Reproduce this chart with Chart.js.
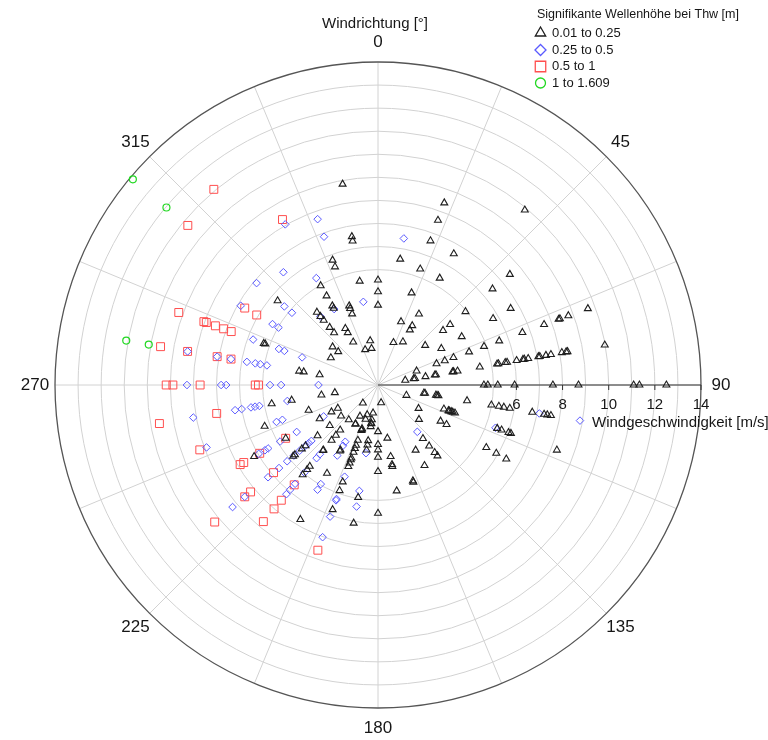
<!DOCTYPE html>
<html>
<head>
<meta charset="utf-8">
<script src="https://cdn.jsdelivr.net/npm/chart.js@4.4.0/dist/chart.umd.min.js"></script>
<style>
  html, body { margin: 0; padding: 0; background: #fff; }
  #wrap { width: 768px; height: 740px; position: relative; }
</style>
</head>
<body>
<div id="wrap"><canvas id="c"></canvas></div>
<script>
// Observations as [wind direction in degrees, wind speed in m/s], grouped by significant wave height class
const legendTitle = 'Signifikante Wellenhöhe bei Thw [m]';
const classLabels = ['0.01 to 0.25', '0.25 to 0.5', '0.5 to 1', '1 to 1.609'];

const waveLow = [
  [0,4.55],[0,4.04],[0,3.46],
  [10,5.54],
  [20,8.4],[20,7.6],[20,6.65],[20,5.35],[20,4.25],[20,2.92],[20,1.96],
  [30,6.57],[30,5.35],[30,3.55],[30,2.97],[30,2.76],[30,2.16],
  [40,9.9],
  [50,7.46],[50,6.48],[50,4.95],[50,4.08],[50,3.68],[50,2.67],
  [60,6.64],[60,5.76],[60,4.19],[60,3.17],
  [70,9.68],[70,8.78],[70,8.39],[70,8.33],[70,7.66],[70,6.66],[70,5.59],[70,4.89],[70,4.2],[70,3.48],[70,3.08],[70,2.7],[70,1.78],
  [80,9.98],[80,8.34],[80,8.28],[80,8.09],[80,7.61],[80,7.39],[80,7.12],[80,7.06],[80,6.61],[80,6.44],[80,6.38],[80,6.1],[80,5.68],[80,5.6],[80,5.3],[80,5.24],[80,4.48],[80,3.5],[80,3.33],[80,3.28],[80,2.55],[80,2.5],[80,2.09],[80,1.63],[80,1.57],[80,1.2],
  [90,12.5],[90,11.33],[90,11.08],[90,8.69],[90,7.58],[90,5.92],[90,5.19],[90,4.76],[90,4.59],
  [100,7.61],[100,7.45],[100,7.31],[100,6.79],[100,5.8],[100,5.54],[100,5.32],[100,4.99],[100,3.92],[100,2.66],[100,2.6],[100,2.55],[100,2.07],[100,2.02],
  [110,8.25],[110,6.13],[110,6.02],[110,5.7],[110,5.5],[110,3.55],[110,3.45],[110,3.38],[110,3.3],[110,3.25],[110,3.04],[110,1.31],
  [120,6.42],[120,5.92],[120,5.42],[120,3.43],[120,3.13],[120,2.03],
  [130,2.32],
  [140,4.01],[140,3.82],[140,3.45],[140,3.03],
  [150,4.03],[150,3.26],
  [160,4.48],[160,4.42],
  [170,4.66],[170,3.58],[170,3.5],[170,3.15],[170,2.34],[170,0.78],
  [180,5.56],[180,3.75],[180,3.13],[180,2.81],[180,2.58],[180,2.02],
  [190,6.08],[190,4.95],[190,2.86],[190,2.64],[190,2.45],[190,1.83],[190,1.7],[190,1.68],[190,1.53],[190,1.23],
  [200,5.75],[200,4.87],[200,4.47],[200,3.76],[200,3.6],[200,3.45],[200,3.37],[200,3.1],[200,2.93],[200,2.78],[200,2.55],[200,2.1],[200,2.06],[200,2.02],[200,1.58],[200,1.37],
  [210,6.73],[210,4.42],[210,3.3],[210,3.25],[210,1.96],[210,1.94],[210,1.56],
  [220,5.08],[220,4.78],[220,4.6],[220,3.71],[220,3.68],[220,3.13],[220,2.84],[220,2.55],[220,1.97],[220,1.02],
  [230,4.8],[230,4.7],[230,4.31],[230,4.1],[230,3.42],[230,2.73],[230,2.09],
  [240,6.2],[240,4.62],[240,2.92],[240,2.33],[240,2.01],
  [250,5.23],[250,3.2],
  [260,4.68],[260,3.8],[260,2.49],[260,1.9],
  [280,3.47],[280,3.27],[280,2.57],
  [290,5.27],[290,5.2],
  [300,2.36],
  [310,5.68],[310,2.57],[310,2.25],
  [320,4.12],[320,3.88],[320,3.66],[320,3.26],[320,2.96],
  [330,4.97],[330,4.46],[330,3.96],[330,3.84],[330,2.83],[330,2.62],[330,2.15],
  [340,5.76],[340,5.45],[340,3.65],[340,3.53],[340,3.28],[340,1.63],
  [350,8.84],[350,6.53],[350,6.34],[350,4.57],[350,1.95],[350,1.61]
];

const waveMid = [
  [10,6.45],
  [100,8.89],[100,7.1],
  [110,5.42],
  [140,2.65],
  [190,5.35],[190,4.66],[190,3.0],
  [200,7.02],[200,6.07],[200,5.32],[200,5.26],[200,4.23],
  [210,5.24],[210,4.96],[210,3.53],[210,3.04],[210,2.84],
  [220,6.18],[220,5.93],[220,5.59],[220,4.96],[220,4.14],[220,3.92],
  [230,8.23],[230,7.54],[230,6.22],[230,5.6],[230,5.14],[230,4.76],[230,4.43],[230,4.08],[230,3.92],[230,3.77],
  [240,5.97],[240,5.66],[240,5.5],[240,4.9],[240,4.07],[240,2.72],
  [250,7.91],[250,4.68],[250,4.41],
  [260,8.13],[260,6.29],[260,6.0],[260,5.59],[260,5.41],[260,5.22],[260,3.99],
  [270,8.28],[270,6.8],[270,6.58],[270,4.68],[270,4.2],[270,2.58],
  [280,8.38],[280,7.08],[280,6.47],[280,5.77],[280,5.4],[280,5.18],[280,4.89],
  [290,5.76],[290,4.57],[290,4.32],[290,3.5],
  [300,6.87],[300,5.28],[300,4.98],
  [310,6.87],[310,5.3],[310,4.87],
  [320,6.38],[320,3.88],
  [330,8.04],[330,5.35],[330,3.8],
  [340,7.65],[340,6.84],
  [350,3.66]
];

const waveHigh = [
  [200,7.62],
  [220,7.73],[220,7.01],[220,6.52],[220,5.65],
  [230,9.24],[230,7.54],[230,7.21],[230,5.91],
  [240,6.9],[240,6.72],[240,5.92],[240,4.62],
  [250,8.22],
  [260,9.62],[260,7.1],
  [270,9.18],[270,8.89],[270,7.71],[270,5.32],[270,5.18],
  [280,9.57],[280,8.38],[280,7.08],[280,6.47],
  [290,9.19],[290,8.03],[290,7.92],[290,7.5],[290,7.12],[290,6.77],
  [300,6.67],[300,6.07],
  [310,10.76],
  [320,11.07],
  [330,8.28]
];

const waveMax = [
  [280,11.08],[280,10.09],
  [310,13.87],[310,11.97]
];

// Polar frame: ring speeds, spoke directions and tick labels
const speedMax = 14;
const ringSpeeds = [5, 6, 7, 8, 9, 10, 11, 12, 13];
const speedTicks = [6, 8, 10, 12, 14];
const spokeDirs = [0, 22.5, 45, 67.5, 90, 112.5, 135, 157.5, 180, 202.5, 225, 247.5, 270, 292.5, 315, 337.5];
const dirTicks = [0, 45, 90, 135, 180, 225, 270, 315];
const dirTitle = 'Windrichtung [°]';
const speedTitle = 'Windgeschwindigkeit [m/s]';

const FONT = '"Liberation Sans", Arial, Helvetica, sans-serif';
const DEG = Math.PI / 180;

// direction is measured clockwise from north
const toXY = ([dir, speed]) => ({ x: speed * Math.sin(dir * DEG), y: speed * Math.cos(dir * DEG) });

const styles = [
  { data: waveLow,  pointStyle: 'triangle', radius: 4,   color: '#1e1e1e', width: 1.1, legendRadius: 6 },
  { data: waveMid,  pointStyle: 'rectRot',  radius: 3.8, color: '#5a5aff', width: 1,   legendRadius: 5.5 },
  { data: waveHigh, pointStyle: 'rect',     radius: 5.6, color: '#ff4f4f', width: 1,   legendRadius: 7.4 },
  { data: waveMax,  pointStyle: 'circle',   radius: 3.5, color: '#22d822', width: 1.2, legendRadius: 5 }
];

const datasets = styles.map((s, i) => ({
  label: classLabels[i],
  data: s.data.map(toXY),
  pointStyle: s.pointStyle,
  pointRadius: s.radius,
  pointBorderColor: s.color,
  pointBackgroundColor: 'rgba(0,0,0,0)',
  pointBorderWidth: s.width,
  showLine: false,
  clip: false
}));

const polarFrame = {
  id: 'polarFrame',
  beforeDatasetsDraw(chart) {
    const { ctx, scales: { x, y } } = chart;
    const px = (dir, v) => [x.getPixelForValue(v * Math.sin(dir * DEG)), y.getPixelForValue(v * Math.cos(dir * DEG))];
    const cx = x.getPixelForValue(0), cy = y.getPixelForValue(0);
    const r = v => x.getPixelForValue(v) - cx;
    ctx.save();
    ctx.strokeStyle = '#d2d2d2';
    ctx.lineWidth = 1;
    ringSpeeds.forEach(v => {
      ctx.beginPath();
      ctx.arc(cx, cy, r(v), 0, 2 * Math.PI);
      ctx.stroke();
    });
    spokeDirs.forEach(d => {
      const [ex, ey] = px(d, speedMax);
      ctx.beginPath();
      ctx.moveTo(cx, cy);
      ctx.lineTo(ex, ey);
      ctx.stroke();
    });
    // outer boundary
    ctx.strokeStyle = '#555';
    ctx.lineWidth = 1.3;
    ctx.beginPath();
    ctx.arc(cx, cy, r(speedMax), 0, 2 * Math.PI);
    ctx.stroke();
    // radial speed axis along 90°
    ctx.strokeStyle = '#333';
    ctx.lineWidth = 1.2;
    ctx.beginPath();
    ctx.moveTo(cx, cy);
    ctx.lineTo(x.getPixelForValue(speedMax), cy);
    ctx.stroke();
    ctx.lineWidth = 1;
    speedTicks.forEach(v => {
      const tx = x.getPixelForValue(v);
      ctx.beginPath();
      ctx.moveTo(tx, cy);
      ctx.lineTo(tx, cy + 5);
      ctx.stroke();
    });
    ctx.restore();
  },
  afterDraw(chart) {
    const { ctx, scales: { x, y } } = chart;
    const cx = x.getPixelForValue(0), cy = y.getPixelForValue(0);
    const rOut = x.getPixelForValue(speedMax) - cx;
    ctx.save();
    ctx.fillStyle = '#161616';
    ctx.textAlign = 'center';
    ctx.textBaseline = 'middle';
    // direction labels
    ctx.font = '17px ' + FONT;
    dirTicks.forEach(d => {
      const rr = rOut + 20;
      ctx.fillText(String(d), cx + rr * Math.sin(d * DEG), cy - rr * Math.cos(d * DEG));
    });
    ctx.font = '15px ' + FONT;
    ctx.fillText(dirTitle, cx - 3, 24);
    // speed labels
    speedTicks.forEach(v => ctx.fillText(String(v), x.getPixelForValue(v), cy + 20));
    ctx.textAlign = 'left';
    ctx.fillText(speedTitle, 592, cy + 38);
    // legend
    ctx.font = '12.5px ' + FONT;
    ctx.fillText(legendTitle, 537, 15);
    ctx.font = '13px ' + FONT;
    const rows = [33, 50, 66.5, 83];
    chart.data.datasets.forEach((ds, i) => {
      const s = styles[i];
      ctx.strokeStyle = s.color;
      ctx.fillStyle = 'rgba(0,0,0,0)';
      ctx.lineWidth = 1.3;
      Chart.helpers.drawPoint(ctx, { pointStyle: s.pointStyle, radius: s.legendRadius, borderWidth: 1.3 }, 540.5, rows[i]);
      ctx.fillStyle = '#161616';
      ctx.fillText(ds.label, 552, rows[i]);
    });
    ctx.restore();
  }
};

new Chart(document.getElementById('c'), {
  type: 'scatter',
  data: { datasets },
  options: {
    responsive: true,
    maintainAspectRatio: false,
    animation: false,
    layout: { padding: { left: 55, right: 67, top: 62, bottom: 32 } },
    scales: {
      x: { type: 'linear', min: -speedMax, max: speedMax, display: false },
      y: { type: 'linear', min: -speedMax, max: speedMax, display: false }
    },
    plugins: { legend: { display: false }, tooltip: { enabled: false } }
  },
  plugins: [polarFrame]
});
</script>
</body>
</html>
